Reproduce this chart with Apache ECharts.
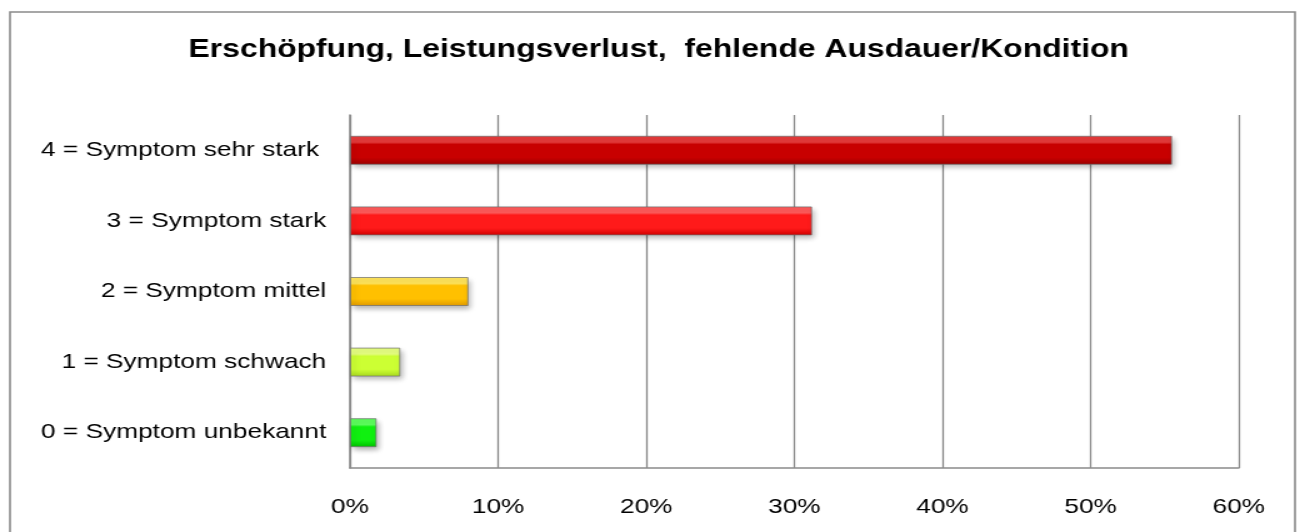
<!DOCTYPE html>
<html>
<head>
<meta charset="utf-8">
<script src="https://cdn.jsdelivr.net/npm/echarts@6/dist/echarts.min.js"></script>
<style>
    html, body { margin: 0; padding: 0; background: #fff; overflow: hidden; }
    /* the original picture is stretched sideways, so the chart is drawn narrower and scaled */
    #main { width: 1041px; height: 532px; transform: scaleX(1.25); transform-origin: 0 0; }
</style>
</head>
<body>
<div id="main"></div>
<script>
// Daten (von unten nach oben)
var categories = ['0 = Symptom unbekannt', '1 = Symptom schwach', '2 = Symptom mittel', '3 = Symptom stark', '4 = Symptom sehr stark ']
var values = [1.8, 3.4, 8.0, 31.2, 55.5]
var xTicks = [0, 10, 20, 30, 40, 50, 60]
// Farben je Balken: [oben hell, mitte, unten dunkel]
var barColors = [
    ['#5cff5c', '#10f010', '#00c000'],
    ['#e6ff80', '#ccff33', '#a8d820'],
    ['#ffe45a', '#ffc000', '#e09a00'],
    ['#ff5a5a', '#ff1a1a', '#d00000'],
    ['#e53a3a', '#c80000', '#980000']
]

var myChart = echarts.init(document.getElementById('main'))

var barData = values.map(function (v, i) {
    var c = barColors[i]
    return {
        value: v,
        itemStyle: {
            color: {
                type: 'linear', x: 0, y: 0, x2: 0, y2: 1,
                colorStops: [
                    { offset: 0, color: c[0] },
                    { offset: 0.22, color: c[0] },
                    { offset: 0.3, color: c[1] },
                    { offset: 0.75, color: c[1] },
                    { offset: 1, color: c[2] }
                ]
            }
        }
    }
})

var labelFont = 'Liberation Sans, Arial, sans-serif'

var option = {
    animation: false,
    title: {
        text: 'Erschöpfung, Leistungsverlust,  fehlende Ausdauer/Kondition',
        left: 522,
        textAlign: 'center',
        top: 32,
        textStyle: {
            fontFamily: labelFont,
            fontSize: 25.5,
            fontWeight: 'bold',
            color: '#000'
        }
    },
    graphic: [{
        type: 'rect',
        shape: { x: 8, y: 12, width: 1028, height: 540 },
        style: { fill: null, stroke: '#8a8a8a', lineWidth: 1.6 },
        silent: true
    }],
    grid: {
        left: 280,
        right: 50,
        top: 115,
        bottom: 64
    },
    xAxis: {
        type: 'value',
        min: xTicks[0],
        max: xTicks[xTicks.length - 1],
        interval: 10,
        axisLine: { show: true, lineStyle: { color: '#8a8a8a', width: 1.6 } },
        axisTick: { show: false },
        splitLine: { show: true, lineStyle: { color: '#8a8a8a', width: 1.3 } },
        axisLabel: {
            formatter: '{value}%',
            color: '#000',
            fontFamily: labelFont,
            fontSize: 21,
            margin: 29
        }
    },
    yAxis: {
        type: 'category',
        data: categories,
        axisLine: { show: true, lineStyle: { color: '#8a8a8a', width: 1.6 } },
        axisTick: { show: false },
        axisLabel: {
            color: '#000',
            fontFamily: labelFont,
            fontSize: 21,
            margin: 19
        }
    },
    series: [{
        type: 'bar',
        data: barData,
        barWidth: 29,
        itemStyle: {
            borderColor: 'rgba(110,110,110,0.7)',
            borderWidth: 1,
            shadowBlur: 5,
            shadowColor: 'rgba(0,0,0,0.3)',
            shadowOffsetX: 2,
            shadowOffsetY: 3
        }
    }]
}

myChart.setOption(option)
</script>
</body>
</html>
